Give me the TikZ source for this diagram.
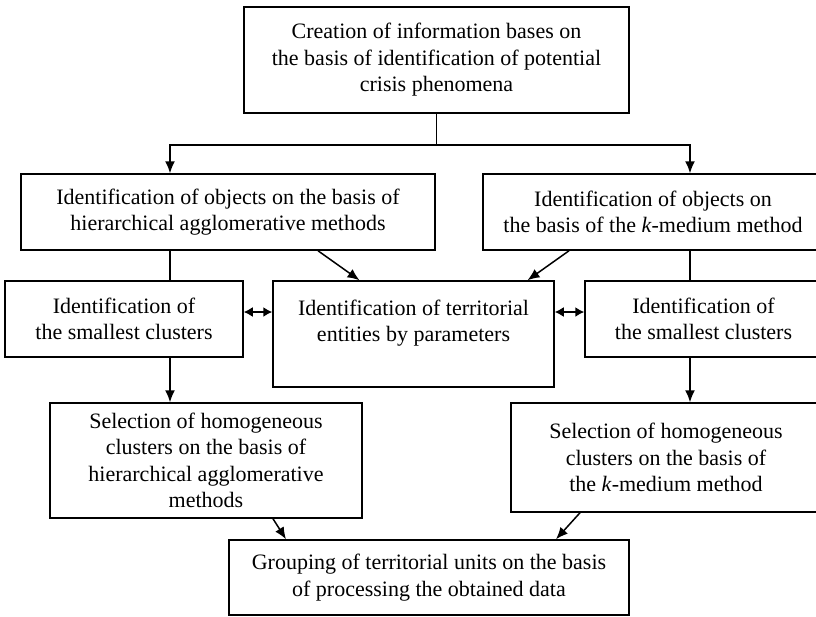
\documentclass[tikz,border=0pt]{standalone}
\usepackage{fontspec}
\setmainfont{Liberation Serif}
\usetikzlibrary{calc,arrows.meta}

\tikzset{
  box/.style={draw, line width=1.5pt, align=center, inner sep=0pt,
    font=\fontsize{22}{26.5}\selectfont},
  link/.style={line width=1.5pt},
  arr/.style={link, -{Latex[length=12pt,width=10pt]}},
  dbl/.style={link, {Latex[length=9pt,width=10pt]}-{Latex[length=9pt,width=10pt]}}
}

\begin{document}
\begin{tikzpicture}[x=1pt,y=-1pt]
    \useasboundingbox (0,0) rectangle (816,616);

    \node [box, minimum width=385, minimum height=106] (top) at (436.5,60)
      {Creation of information bases on\\the basis of identification of potential\\crisis phenomena};

    \node [box, minimum width=414, minimum height=76] (hier) at (228,212)
      {Identification of objects on the basis of\\hierarchical agglomerative methods};
    \node [box, minimum width=340, minimum height=76] (kmed) at (653,212)
      {Identification of objects on\\the basis of the \textit{k}-medium method};

    \node [box, minimum width=238, minimum height=76] (smallL) at (124,319)
      {Identification of\\the smallest clusters};
    \node [box, minimum width=281, minimum height=106] (param) at (413.5,334)
      {Identification of territorial\\entities by parameters\\ \mbox{}};
    \node [box, minimum width=237, minimum height=76] (smallR) at (703.5,319)
      {Identification of\\the smallest clusters};

    \node [box, minimum width=312, minimum height=115] (selL) at (206,460.5)
      {Selection of homogeneous\\clusters on the basis of\\hierarchical agglomerative\\methods};
    \node [box, minimum width=310, minimum height=109] (selR) at (666,457.5)
      {Selection of homogeneous\\clusters on the basis of\\the \textit{k}-medium method};

    \node [box, minimum width=400, minimum height=75] (group) at (429,577.5)
      {Grouping of territorial units on the basis\\of processing the obtained data};

    % columns of the vertical connectors
    \coordinate (lcol) at (170,0);
    \coordinate (rcol) at (690,0);
    \coordinate (split) at ($(top.south)+(0,31)$);

    \draw [link] (top.south) -- (split);
    \draw [arr] (split) -| (lcol |- hier.north);
    \draw [arr] (split) -| (rcol |- kmed.north);

    \draw [link] (lcol |- hier.south) -- (lcol |- smallL.north);
    \draw [link] (rcol |- kmed.south) -- (rcol |- smallR.north);

    \draw [arr] ($(hier.south)+(90,0)$) -- ($(param.north)+(-54,0)$);
    \draw [arr] ($(kmed.south)+(-84,0)$) -- ($(param.north)+(114,0)$);

    \coordinate (dl) at ($(smallL.east)+(0,-7)$);
    \coordinate (dr) at ($(smallR.west)+(0,-7)$);
    \draw [dbl] (dl) -- (dl -| param.west);
    \draw [dbl] (dr -| param.east) -- (dr);

    \draw [arr] (lcol |- smallL.south) -- (lcol |- selL.north);
    \draw [arr] (rcol |- smallR.south) -- (rcol |- selR.north);

    \draw [arr] ($(selL.south)+(67,0)$) -- ($(group.north)+(-143,0)$);
    \draw [arr] ($(selR.south)+(-86,0)$) -- ($(group.north)+(127,0)$);
\end{tikzpicture}
\end{document}
